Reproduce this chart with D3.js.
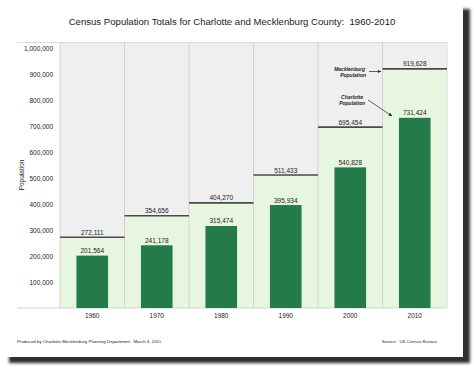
<!DOCTYPE html>
<html>
<head>
<meta charset="utf-8">
<title>Census Population Totals</title>
<script src="https://cdn.jsdelivr.net/npm/d3@7/dist/d3.min.js"></script>
<style>
  body { margin: 0; background: #fff; }
  svg text { font-family: "Liberation Sans", Arial, sans-serif; fill: #222; }
  .tick text { font-size: 6.5px; fill: #222; }
  .val { font-size: 6.5px; text-anchor: middle; }
  .note { font-size: 5px; font-style: italic; font-weight: bold; text-anchor: end; }
  .foot { font-size: 4.4px; }
</style>
</head>
<body>
<svg id="chart"></svg>
<script>
// census values
var years = ['1960', '1970', '1980', '1990', '2000', '2010'];
var charlotte = [201564, 241178, 315474, 395934, 540828, 731424];
var mecklenburg = [272111, 354656, 404270, 511433, 695454, 919628];
var yTicks = [100000, 200000, 300000, 400000, 500000, 600000, 700000, 800000, 900000, 1000000];

var width = 474, height = 368;
var plotL = 60, plotR = 447, plotT = 42, plotB = 308;  // don't use "top", it's window.top

var svg = d3.select('#chart')
  .attr('width', width)
  .attr('height', height);

// card with drop shadow
var defs = svg.append('defs');
defs.append('filter').attr('id', 'blur')
  .append('feGaussianBlur').attr('stdDeviation', 1.6);

svg.append('rect')
  .attr('x', 9).attr('y', 9)
  .attr('width', 461).attr('height', 354)
  .attr('fill', '#2e2e2e')
  .attr('filter', 'url(#blur)');
svg.append('rect')
  .attr('x', 0).attr('y', 0)
  .attr('width', 463).attr('height', 357)
  .attr('fill', '#fff');

var x = d3.scaleBand().domain(years).range([plotL, plotR]);
var y = d3.scaleLinear().domain([0, 1023000]).range([plotB, plotT]);

// plot background
svg.append('rect')
  .attr('x', plotL).attr('y', plotT)
  .attr('width', plotR - plotL).attr('height', plotB - plotT)
  .attr('fill', '#efefef');

// light green region under the county line
svg.selectAll('rect.county')
  .data(years)
  .enter()
  .append('rect')
  .attr('class', 'county')
  .attr('x', d => x(d))
  .attr('y', (d, i) => y(mecklenburg[i]))
  .attr('width', x.bandwidth())
  .attr('height', (d, i) => plotB - y(mecklenburg[i]))
  .attr('fill', '#e7f6de');

// column separators
svg.selectAll('line.sep')
  .data(years.slice(1))
  .enter()
  .append('line')
  .attr('x1', d => x(d)).attr('x2', d => x(d))
  .attr('y1', plotT).attr('y2', plotB)
  .attr('stroke', '#d2d2d2')
  .attr('stroke-width', 1);

// frame lines
svg.append('line')
  .attr('x1', 17).attr('x2', plotR).attr('y1', plotT + 0.5).attr('y2', plotT + 0.5)
  .attr('stroke', '#dcdcdc');
svg.append('line')
  .attr('x1', 17).attr('x2', plotR).attr('y1', plotB).attr('y2', plotB)
  .attr('stroke', '#d4d4d4');
svg.append('line')
  .attr('x1', plotL).attr('x2', plotL).attr('y1', plotT).attr('y2', plotB)
  .attr('stroke', '#d4d4d4');
svg.append('line')
  .attr('x1', plotR).attr('x2', plotR).attr('y1', plotT).attr('y2', plotB)
  .attr('stroke', '#dcdcdc');

// county lines
svg.selectAll('line.county')
  .data(years)
  .enter()
  .append('line')
  .attr('x1', d => x(d)).attr('x2', d => x(d) + x.bandwidth())
  .attr('y1', (d, i) => y(mecklenburg[i])).attr('y2', (d, i) => y(mecklenburg[i]))
  .attr('stroke', '#4a4a4a')
  .attr('stroke-width', 1.6);

// city bars
var bw = x.bandwidth() * 0.49;
svg.selectAll('rect.bar')
  .data(years)
  .enter()
  .append('rect')
  .attr('class', 'bar')
  .attr('x', d => x(d) + (x.bandwidth() - bw) / 2)
  .attr('y', (d, i) => y(charlotte[i]))
  .attr('width', bw)
  .attr('height', (d, i) => plotB - y(charlotte[i]))
  .attr('fill', '#237b49');

// value labels
var fmt = d3.format(',');
svg.selectAll('text.cval')
  .data(years)
  .enter()
  .append('text')
  .attr('class', 'val')
  .attr('x', d => x(d) + x.bandwidth() / 2)
  .attr('y', (d, i) => y(charlotte[i]) - 2.5)
  .text((d, i) => fmt(charlotte[i]));

svg.selectAll('text.mval')
  .data(years)
  .enter()
  .append('text')
  .attr('class', 'val')
  .attr('x', d => x(d) + x.bandwidth() / 2)
  .attr('y', (d, i) => y(mecklenburg[i]) - 2.5)
  .text((d, i) => fmt(mecklenburg[i]));

// axes
var yAxis = svg.append('g')
  .attr('transform', 'translate(' + (plotL - 4) + ',0)')
  .call(d3.axisLeft(y).tickValues(yTicks).tickSize(0).tickFormat(fmt));
yAxis.select('.domain').remove();

var xAxis = svg.append('g')
  .attr('transform', 'translate(0,' + (plotB + 2) + ')')
  .call(d3.axisBottom(x).tickSize(0));
xAxis.select('.domain').remove();

svg.append('text')
  .attr('transform', 'translate(24,175) rotate(-90)')
  .attr('text-anchor', 'middle')
  .style('font-size', '6.5px')
  .text('Population');

// title
svg.append('text')
  .attr('x', 232).attr('y', 25)
  .attr('text-anchor', 'middle')
  .style('font-size', '9.6px')
  .style('white-space', 'pre')
  .text('Census Population Totals for Charlotte and Mecklenburg County:  1960-2010');

// annotations in the 2000 column
var ann = svg.append('g');
ann.append('text').attr('class', 'note').attr('x', 365).attr('y', 71).text('Mecklenburg');
ann.append('text').attr('class', 'note').attr('x', 366).attr('y', 77).text('Population');
ann.append('text').attr('class', 'note').attr('x', 363).attr('y', 99).text('Charlotte');
ann.append('text').attr('class', 'note').attr('x', 365).attr('y', 105).text('Population');

defs.append('marker')
  .attr('id', 'head')
  .attr('viewBox', '0 0 10 10')
  .attr('refX', 10).attr('refY', 5)
  .attr('markerWidth', 5).attr('markerHeight', 5)
  .attr('orient', 'auto')
  .append('path').attr('d', 'M0,0L10,5L0,10z').attr('fill', '#222');

ann.append('line')
  .attr('x1', 369).attr('y1', 71.5).attr('x2', 381).attr('y2', 71.5)
  .attr('stroke', '#222').attr('stroke-width', 0.7)
  .attr('marker-end', 'url(#head)');
ann.append('line')
  .attr('x1', 368).attr('y1', 100).attr('x2', 392).attr('y2', 116)
  .attr('stroke', '#222').attr('stroke-width', 0.7)
  .attr('marker-end', 'url(#head)');

// footer
svg.append('text').attr('class', 'foot')
  .attr('x', 17).attr('y', 343)
  .style('white-space', 'pre')
  .text('Produced by Charlotte-Mecklenburg Planning Department.  March 4, 2011');
svg.append('text').attr('class', 'foot')
  .attr('x', 437).attr('y', 343)
  .attr('text-anchor', 'end')
  .style('white-space', 'pre')
  .text('Source:  US Census Bureau');
</script>
</body>
</html>
